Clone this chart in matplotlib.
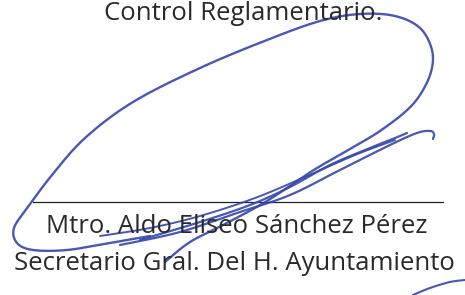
import numpy as np
import matplotlib
matplotlib.use("Agg")
import matplotlib.pyplot as plt

# Text lines of the document fragment
title_text = "Control Reglamentario."
name_text = "Mtro. Aldo Eliseo Sánchez Pérez"
role_text = "Secretario Gral. Del H. Ayuntamiento"

# Signature line (x range, y)
rule_x = [33, 443]
rule_y = [202, 202]

# Signature strokes (traced points, pixel coords)
stroke1_x = [150, 110, 67, 33, 17, 14, 28, 52, 85, 133, 200, 267, 320, 360, 395, 420, 432, 431, 420, 405, 380, 357, 317, 290, 262, 225, 190, 165]
stroke1_y = [236, 243, 250, 250, 243, 228, 207, 175, 138, 102, 68, 40, 21, 14, 16, 28, 50, 72, 95, 112, 131, 145, 168, 186, 204, 224, 242, 262]
stroke2_x = [140, 200, 250, 290, 330, 370, 395, 407]
stroke2_y = [240, 222, 205, 187, 165, 148, 138, 133]
stroke3_x = [120, 180, 240, 290, 340, 390, 417, 430, 434, 433]
stroke3_y = [245, 232, 212, 195, 170, 145, 133, 131, 134, 139]
stroke4_x = [100, 150, 200, 255, 305, 355, 395]
stroke4_y = [236, 228, 216, 198, 177, 155, 140]
stroke5_x = [413, 430, 450, 465]
stroke5_y = [295, 288, 282, 280]


def smooth(xs, ys, n=12):
    """Catmull-Rom rendering of a pen stroke through its traced points."""
    p = np.column_stack([xs, ys]).astype(float)
    p = np.vstack([p[0], p, p[-1]])
    out = []
    t = np.linspace(0, 1, n, endpoint=False)[:, None]
    for i in range(1, len(p) - 2):
        p0, p1, p2, p3 = p[i - 1], p[i], p[i + 1], p[i + 2]
        seg = 0.5 * ((2 * p1) + (-p0 + p2) * t + (2 * p0 - 5 * p1 + 4 * p2 - p3) * t ** 2
                     + (-p0 + 3 * p1 - 3 * p2 + p3) * t ** 3)
        out.append(seg)
    out.append(p[-2][None, :])
    out = np.vstack(out)
    return out[:, 0], out[:, 1]


fig = plt.figure(figsize=(4.65, 2.95), dpi=100)
ax = fig.add_axes([0, 0, 1, 1])
ax.set_xlim(0, 465)
ax.set_ylim(295, 0)
ax.axis("off")

font = ["Open Sans", "DejaVu Sans"]
txt_color = "#2a2a2a"
ax.text(243, 20, title_text, ha="center", va="baseline", fontsize=18.5,
        family=font, color=txt_color)
ax.plot(rule_x, rule_y, color="#222222", lw=0.9)
ax.text(237, 233, name_text, ha="center", va="baseline", fontsize=18.5,
        family=font, color=txt_color)
ax.text(234, 270, role_text, ha="center", va="baseline", fontsize=18.5,
        family=font, color=txt_color)

ink = "#3546ad"
for xs, ys, w in [(stroke1_x, stroke1_y, 1.7), (stroke2_x, stroke2_y, 1.6),
                  (stroke3_x, stroke3_y, 1.6), (stroke4_x, stroke4_y, 1.4),
                  (stroke5_x, stroke5_y, 1.5)]:
    sx, sy = smooth(xs, ys)
    ax.plot(sx, sy, color=ink, lw=w, solid_capstyle="round", solid_joinstyle="round", alpha=0.9)

fig.savefig("out.png", dpi=100)
